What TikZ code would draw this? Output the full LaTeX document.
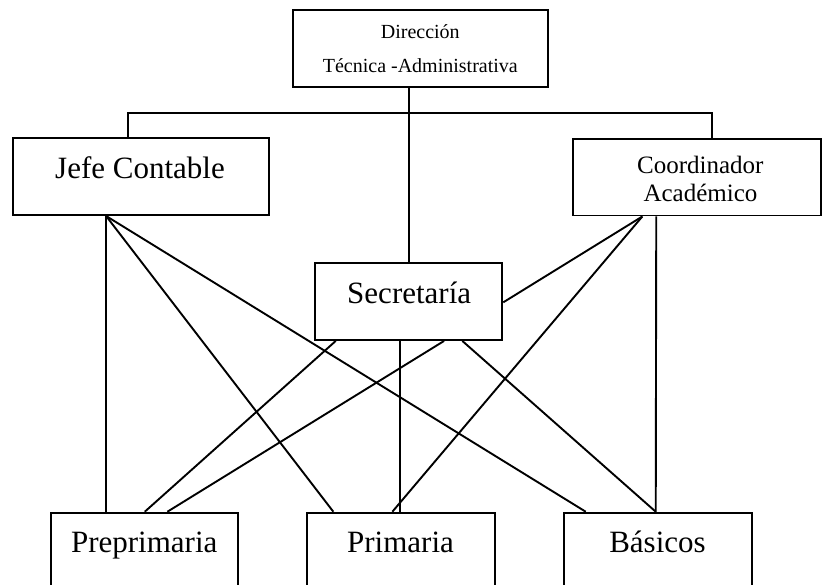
\documentclass[tikz,border=0pt]{standalone}
\usepackage{fontspec}
\setmainfont{Liberation Serif}
\begin{document}
\begin{tikzpicture}[x=1pt,y=-1pt,
  box/.style={draw,line width=1.9pt,inner sep=0pt,minimum height=76.7pt},
  lbl/.style={anchor=base,inner sep=0pt},
  big/.style={font=\fontsize{31}{36}\selectfont},
  mid/.style={font=\fontsize{25}{29}\selectfont},
  small/.style={font=\fontsize{20}{24}\selectfont},
  conn/.style={line width=1.9pt}]
\useasboundingbox (0,0) rectangle (822,585);
\clip (0,0) rectangle (822,585);
% boxes
\node[box,minimum width=255.3pt,minimum height=77pt] (dir) at (420.35,48.5) {};
\node[box,minimum width=256.6pt] (jefe) at (141,176.65) {};
\node[box,minimum width=248pt] (coord) at (696.7,177.15) {};
\node[box,minimum width=187.3pt] (sec) at (408.65,301.65) {};
\node[box,minimum width=187pt,minimum height=100pt] (pre) at (144.2,562.7) {};
\node[box,minimum width=187.7pt,minimum height=100pt] (pri) at (401.15,562.7) {};
\node[box,minimum width=187.4pt,minimum height=100pt] (bas) at (658,562.7) {};
% texts
\node[lbl,small] (dirA) at (420.3,39) {Dirección};
\node[lbl,small] (dirB) at (420.3,72.7) {Técnica -Administrativa};
\node[lbl,big] (jefeT) at (140,178.3) {Jefe Contable};
\node[lbl,mid] (coordA) at (700.3,174) {Coordinador};
\node[lbl,mid] (coordB) at (700.5,201.7) {Académico};
\node[lbl,big] (secT) at (409.2,303.3) {Secretaría};
\node[lbl,big] (preT) at (144.2,552.7) {Preprimaria};
\node[lbl,big] (priT) at (400.5,552.7) {Primaria};
\node[lbl,big] (basT) at (657.5,552.7) {Básicos};
% top connectors
\coordinate (hj) at (128.3,113.3);
\coordinate (hc) at (712.3,113.3);
\draw[conn] (sec.north |- dir.south) -- (sec.north);
\draw[conn] (hj |- jefe.north) -- (hj) -- (hc) -- (hc |- coord.north);
% anchor points
\coordinate (jb) at ([xshift=94.3pt]jefe.south west);
\coordinate (cb) at ([xshift=70.6pt]coord.south west);
\coordinate (cv) at ([xshift=84.5pt]coord.south west);
\coordinate (s1) at ([xshift=21.7pt]sec.south west);
\coordinate (s4) at ([xshift=86pt]sec.south west);
\coordinate (s2) at ([xshift=130pt]sec.south west);
\coordinate (s3) at ([xshift=148.3pt]sec.south west);
\coordinate (se) at ([yshift=-40pt]sec.north east);
\coordinate (pp1) at ([xshift=55pt]pre.north west);
\coordinate (pp2) at ([xshift=95pt]pre.north west);
\coordinate (pp3) at ([xshift=117.6pt]pre.north west);
\coordinate (pr1) at ([xshift=27pt]pri.north west);
\coordinate (pr2) at ([xshift=86pt]pri.north west);
\coordinate (pr3) at ([xshift=93.7pt]pri.north west);
\coordinate (b1) at ([xshift=22.4pt]bas.north west);
\coordinate (b2) at ([xshift=92.4pt]bas.north west);
% Jefe Contable
\draw[conn] (jb) -- (jb |- pp1);
\draw[conn] (jb) -- (pr1);
\draw[conn] (jb) -- (b1);
% Coordinador
\draw[conn] (cb) -- (se);
\draw[conn] (cb) -- (pr2);
\draw[conn] (cv) -- (b2);
% Secretaria
\draw[conn] (s1) -- (pp2);
\draw[conn] (s2) -- (pp3);
\draw[conn] (s4) -- (pr3);
\draw[conn] (s3) -- (b2);
\end{tikzpicture}
\end{document}
